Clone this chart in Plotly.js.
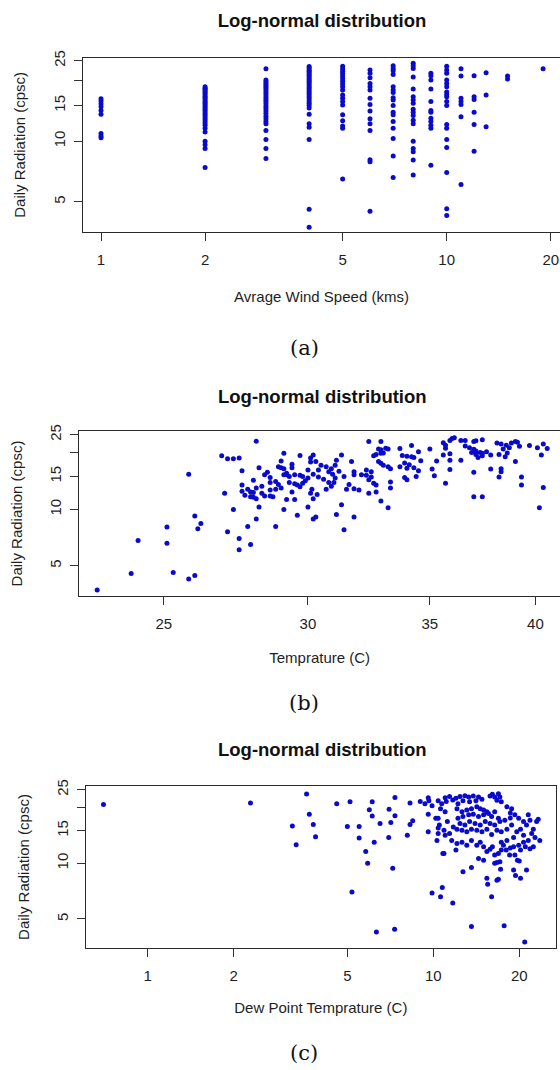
<!DOCTYPE html>
<html>
<head>
<meta charset="utf-8">
<script src="https://cdn.plot.ly/plotly-3.0.1.min.js"></script>
<style>html,body{margin:0;padding:0;background:#fff;}#chart{width:560px;height:1070px;}</style>
</head>
<body>
<div id="chart"></div>
<script>
// ---------- Panel (a): radiation vs average wind speed ----------
const windLevels = [1, 2, 3, 4, 5, 6, 7, 8, 9, 10, 11, 12, 13, 15, 19];
const radiationByWind = [
  [16.2, 15.8, 15.3, 14.8, 14.2, 13.6, 10.9, 10.6, 10.4],
  [18.6, 18.3, 18.0, 17.7, 17.4, 17.1, 16.8, 16.5, 16.2, 15.9, 15.6, 15.3, 15.0, 14.7, 14.4, 14.1, 13.8, 13.5, 13.2, 12.9, 12.6, 12.3, 12.0, 11.6, 11.1, 10.0, 9.6, 9.2, 7.4],
  [22.8, 20.1, 19.7, 19.3, 18.9, 18.5, 18.1, 17.7, 17.3, 16.9, 16.5, 16.1, 15.7, 15.3, 14.9, 14.5, 14.1, 13.7, 13.3, 12.9, 12.5, 12.2, 11.3, 10.2, 9.2, 8.2],
  [23.4, 23.0, 22.6, 22.2, 21.8, 21.4, 21.0, 20.6, 20.2, 19.8, 19.4, 19.0, 18.6, 18.2, 17.8, 17.4, 17.0, 16.6, 16.2, 15.8, 15.4, 15.0, 14.6, 13.6, 12.2, 11.7, 10.2, 4.6, 3.75],
  [23.5, 22.8, 22.2, 21.6, 21.0, 20.4, 19.8, 19.2, 18.6, 17.9, 16.9, 16.3, 15.7, 15.1, 13.5, 12.6, 11.9, 11.6, 6.5],
  [22.5, 21.7, 20.6, 19.3, 18.6, 17.9, 16.3, 15.2, 14.1, 12.9, 12.2, 11.3, 8.1, 7.9, 4.5],
  [23.6, 22.9, 22.3, 21.4, 18.6, 17.9, 17.4, 16.4, 16.0, 15.0, 13.9, 13.5, 12.5, 11.6, 10.3, 8.45, 6.6],
  [24.3, 23.6, 22.9, 20.8, 18.1, 16.6, 16.0, 15.4, 14.4, 13.9, 13.4, 12.7, 12.2, 10.0, 9.2, 8.85, 8.07, 6.8],
  [21.7, 21.1, 20.1, 18.1, 15.7, 14.2, 13.9, 13.0, 12.5, 12.0, 11.6, 7.6],
  [23.5, 22.5, 21.7, 20.1, 19.3, 18.6, 17.5, 17.0, 16.6, 15.7, 15.0, 12.1, 11.6, 10.2, 9.3, 7.0, 4.63, 4.28],
  [22.8, 21.0, 16.3, 15.7, 15.2, 13.2, 6.1],
  [21.1, 16.6, 16.1, 13.9, 12.1, 8.9],
  [21.8, 16.9, 11.8],
  [21.0, 20.3],
  [22.8]
];

// ---------- Panel (b): radiation vs temperature ----------
const temperature = [
  22.98, 23.99, 24.2, 25.1, 25.1, 25.3, 25.8, 25.8, 26.0, 26.0, 26.2, 26.1, 26.9, 27.1, 27.3, 27.5, 27.0, 27.3, 27.1, 27.5,
  27.5, 27.9, 27.8, 28.1, 27.6, 27.6, 27.6, 27.7, 27.8, 27.9, 28.0, 27.9, 28.0, 28.1, 28.0, 28.2, 28.1, 28.2, 28.3, 28.3,
  28.4, 28.5, 28.6, 28.6, 28.6, 28.8, 28.8, 28.9, 29.0, 28.8, 28.9, 29.0, 29.1, 29.2, 29.2, 29.3, 29.1, 29.0, 29.1, 29.1,
  29.2, 29.4, 29.4, 29.6, 29.5, 29.4, 29.3, 29.5, 29.6, 29.7, 29.8, 29.9, 30.0, 29.7, 29.7, 29.8, 30.0, 30.1, 30.1, 30.2,
  30.0, 30.1, 30.2, 30.3, 30.2, 29.5, 28.4, 28.1, 28.6, 28.7, 30.3, 30.5, 30.7, 30.9, 31.05, 30.4, 30.2, 30.4, 30.6, 30.8,
  30.9, 31.0, 31.05, 30.95, 30.8, 30.7, 30.15, 30.35, 31.1, 31.3, 31.4, 31.8, 31.7, 31.3, 31.1, 31.5, 31.8, 32.0, 31.8, 31.8,
  32.1, 31.2, 31.4, 31.6, 32.4, 32.9, 32.8, 32.9, 33.1, 33.2, 32.6, 32.7, 32.9, 33.0, 32.8, 32.9, 33.0, 33.2, 33.3, 32.3,
  32.5, 32.3, 32.5, 32.4, 32.6, 32.7, 32.4, 32.7, 32.9, 33.2, 33.3, 33.3, 33.7, 34.2, 35.0, 33.8, 34.0, 34.2, 34.3, 33.9,
  34.1, 34.0, 34.3, 33.9, 34.0, 33.7, 34.4, 34.5, 34.6, 34.5, 35.1, 35.2, 35.3, 35.6, 35.7, 35.9, 36.0, 36.1, 35.7, 35.9,
  35.6, 35.9, 35.9, 35.7, 36.4, 36.4, 36.6, 37.0, 37.1, 37.4, 36.6, 36.8, 37.0, 37.1, 37.3, 37.4, 37.1, 37.2, 37.4, 36.9,
  37.6, 37.0, 37.0, 37.4, 37.8, 37.8, 38.1, 38.3, 38.55, 38.7, 38.4, 38.6, 38.2, 38.5, 38.8, 39.0, 39.1, 39.2, 39.0, 38.3,
  38.3, 38.2, 39.3, 39.3, 39.7, 40.1, 40.4, 40.6, 40.3, 40.4, 40.2
];
const radiationTemp = [
  3.72, 4.55, 6.83, 8.07, 6.61, 4.61, 15.4, 4.26, 4.44, 9.24, 8.42, 7.88, 19.3, 18.6, 18.6, 18.8, 12.2, 10.0, 7.6, 7.0,
  6.1, 6.5, 8.1, 23.1, 16.1, 13.5, 12.5, 11.9, 12.8, 12.4, 12.3, 11.7, 11.6, 11.4, 14.3, 10.3, 8.9, 16.7, 13.3, 12.2,
  11.8, 15.8, 14.8, 13.9, 11.8, 8.1, 14.1, 13.6, 13.0, 12.8, 16.9, 16.7, 16.5, 15.6, 15.3, 15.0, 15.3, 18.1, 19.9, 10.0,
  11.3, 17.4, 16.7, 9.3, 11.3, 12.4, 13.9, 13.7, 13.5, 13.2, 13.8, 14.2, 14.7, 19.4, 15.2, 15.0, 16.2, 17.9, 18.8, 19.5,
  10.3, 12.2, 11.4, 9.1, 8.9, 15.3, 15.3, 13.0, 12.7, 11.7, 18.0, 17.2, 16.9, 16.5, 17.2, 16.2, 15.4, 14.9, 14.5, 13.9,
  13.3, 13.9, 14.7, 15.4, 15.9, 12.8, 12.8, 12.0, 9.4, 10.6, 7.8, 9.1, 18.0, 19.5, 18.3, 12.8, 12.9, 12.7, 15.9, 15.3,
  15.3, 16.0, 15.0, 13.6, 23.0, 23.0, 21.0, 20.8, 21.2, 21.0, 19.3, 19.6, 19.9, 20.0, 18.0, 17.6, 17.2, 16.9, 16.5, 16.2,
  15.9, 15.2, 14.9, 14.4, 13.8, 13.5, 12.2, 12.4, 11.1, 10.2, 14.0, 13.0, 21.1, 21.9, 21.0, 19.4, 19.2, 19.1, 18.9, 17.7,
  17.3, 16.6, 16.7, 14.8, 14.4, 16.9, 15.0, 20.3, 18.2, 16.1, 16.4, 15.1, 18.1, 22.7, 22.0, 23.3, 23.9, 24.1, 21.2, 19.8,
  19.5, 18.3, 16.3, 13.8, 18.3, 23.3, 23.3, 23.0, 23.2, 23.5, 21.8, 21.3, 20.9, 20.5, 20.1, 19.9, 19.6, 18.9, 19.3, 20.1,
  20.3, 15.8, 11.7, 11.7, 19.5, 16.4, 22.6, 22.3, 22.0, 21.3, 21.0, 20.0, 19.6, 19.1, 22.6, 23.0, 22.8, 21.7, 18.0, 16.5,
  15.9, 14.9, 14.9, 13.5, 21.9, 21.3, 22.3, 21.1, 19.5, 13.1, 10.2
];

// ---------- Panel (c): radiation vs dew point temperature ----------
const dewPoint = [
  0.7, 2.29, 3.6, 3.68, 3.8, 3.21, 3.31, 3.87, 4.59, 5.11, 5.0, 5.5, 5.5, 5.19, 5.97, 6.11, 6.11, 6.51, 6.21, 5.8,
  5.89, 6.32, 7.0, 7.1, 7.34, 7.34, 6.98, 7.21, 7.32, 8.11, 8.29, 8.47, 8.29, 9.6, 9.6, 10.3, 9.9, 10.6, 10.75, 11.7,
  9.0, 9.35, 9.6, 9.65, 9.9, 10.4, 10.7, 11.0, 11.1, 11.4, 11.7, 12.0, 12.2, 12.4, 12.7, 12.9, 13.3, 13.4, 13.8, 14.1,
  14.4, 14.8, 15.8, 16.1, 16.4, 16.9, 17.1, 16.7, 17.3, 18.1, 18.8, 18.6,
  12.1, 12.6, 13.1, 13.6, 14.2, 14.6, 15.0, 15.4, 12.2, 12.7, 13.3, 13.8, 14.4, 15.0, 15.6, 16.0, 16.4, 16.9, 12.4, 12.9,
  13.4, 14.0, 14.6, 15.2, 15.8, 16.4, 17.1, 17.8, 18.6, 12.1, 12.6, 13.1, 13.6, 14.2, 14.8, 15.4, 16.0, 16.7, 17.3, 18.1,
  18.8, 10.4, 10.5, 10.4, 10.4, 10.9, 11.0, 11.4, 11.6, 11.75, 11.2, 11.0, 10.6, 10.2,
  12.1, 12.6, 13.1, 13.6, 14.2, 14.6, 15.0, 15.4, 15.8, 16.1, 16.4, 16.9, 17.3, 17.6, 18.1, 18.6, 19.1, 12.0, 10.8, 10.9,
  15.0, 14.4, 13.6, 12.7, 15.4, 15.5, 16.0, 16.7, 16.9, 16.4, 16.7, 17.1, 17.2, 17.3, 13.6, 17.7, 20.9,
  19.3, 19.9, 20.7, 21.5, 21.2, 21.8, 22.4, 23.0, 23.3, 22.1, 22.7, 23.6, 21.5, 20.7, 19.9, 20.2, 21.0, 21.8, 22.4, 20.7,
  19.6, 20.2, 19.1, 19.3, 19.7, 20.0, 19.1, 19.4, 20.2, 21.2, 18.0, 18.5
];
const radiationDew = [
  20.8, 21.2, 23.7, 18.4, 16.2, 15.9, 12.6, 13.9, 21.0, 21.5, 15.8, 15.8, 13.7, 7.0, 19.5, 21.5, 18.0, 16.4, 13.0, 11.6,
  10.0, 4.25, 19.6, 16.6, 22.7, 18.1, 13.8, 9.4, 4.4, 14.2, 16.2, 17.0, 21.2, 18.4, 14.8, 13.3, 6.9, 6.6, 7.4, 6.1,
  21.6, 21.0, 22.6, 21.8, 20.5, 21.8, 21.0, 22.6, 21.6, 23.0, 22.0, 22.5, 21.0, 23.0, 21.8, 23.2, 22.8, 21.5, 23.1, 21.8,
  22.8, 22.2, 23.1, 23.6, 22.8, 23.8, 22.8, 21.9, 21.5, 20.2, 19.7, 18.7,
  19.7, 19.0, 19.4, 19.7, 20.2, 19.7, 19.4, 19.0, 17.5, 17.9, 18.3, 18.4, 17.9, 18.3, 18.6, 17.9, 19.0, 17.5, 16.4, 16.1,
  16.8, 16.4, 16.1, 16.8, 16.4, 16.1, 16.8, 17.1, 17.6, 15.3, 15.1, 14.8, 15.3, 15.1, 14.8, 15.3, 14.3, 15.1, 14.8, 15.3,
  16.1, 17.5, 16.1, 15.5, 14.5, 15.1, 14.2, 14.5, 13.3, 15.7, 16.8, 19.0, 19.7, 17.5,
  12.8, 13.0, 12.5, 13.3, 12.5, 13.0, 12.3, 11.6, 11.9, 12.3, 11.1, 11.3, 13.0, 12.5, 13.3, 12.1, 12.3, 11.8, 11.3, 11.3,
  10.4, 10.6, 9.5, 9.0, 8.3, 7.7, 6.6, 8.1, 8.2, 10.0, 10.1, 10.2, 9.3, 11.8, 4.55, 4.6, 3.75,
  18.3, 17.5, 16.8, 18.3, 16.1, 17.1, 15.3, 16.8, 17.3, 14.5, 13.8, 13.3, 13.3, 13.0, 12.5, 11.8, 12.3, 12.0, 12.3, 14.2,
  14.8, 15.3, 13.8, 11.1, 10.4, 10.3, 9.2, 8.6, 8.3, 9.2, 11.8, 11.1
];

// ---------- tick labels / titles ----------
const mainTitle = 'Log-normal distribution';
const yTitle = 'Daily Radiation (cpsc)';
const xTitles = ['Avrage Wind Speed (kms)', 'Temprature (C)', 'Dew Point Temprature (C)'];
const panelLabels = ['(a)', '(b)', '(c)'];
const radTickVals = [5, 10, 15, 20, 25];
const radTickText = ['5', '10', '15', '', '25'];
const logTickVals = [1, 2, 5, 10, 20];
const logTickText = ['1', '2', '5', '10', '20'];
const tempTickVals = [25, 30, 35, 40];
const tempTickText = ['25', '30', '35', '40'];

// ---------- build ----------
const W = 560, H = 1070;
const windX = [], windY = [];
windLevels.forEach((w, i) => radiationByWind[i].forEach(r => { windX.push(w); windY.push(r); }));

const FONT = 'Liberation Sans, Arial, Helvetica, sans-serif';
const TXT = '#1e1e1e';
const marker = {size: 5, color: '#0a0acc', line: {width: 0}};

const traces = [
  {type: 'scatter', mode: 'markers', x: windX, y: windY, xaxis: 'x', yaxis: 'y', marker: marker, hoverinfo: 'x+y'},
  {type: 'scatter', mode: 'markers', x: temperature, y: radiationTemp, xaxis: 'x2', yaxis: 'y2', marker: marker, hoverinfo: 'x+y'},
  {type: 'scatter', mode: 'markers', x: dewPoint, y: radiationDew, xaxis: 'x3', yaxis: 'y3', marker: marker, hoverinfo: 'x+y'}
];

function px2x(px) { return px / W; }
function py2y(py) { return (H - py) / H; }

function xAxis(domain, range, vals, text, title, anchor, standoff) {
  return {
    type: 'log', domain: domain, range: range, anchor: anchor,
    tickmode: 'array', tickvals: vals, ticktext: text,
    ticks: 'outside', ticklen: 8, tickwidth: 1, tickcolor: '#333',
    showline: true, linecolor: '#2a2a2a', linewidth: 1, mirror: true,
    showgrid: false, zeroline: false,
    tickfont: {family: FONT, size: 15, color: TXT},
    ticklabelstandoff: 6,
    title: {text: title, font: {family: FONT, size: 15, color: TXT}, standoff: standoff},
    automargin: false
  };
}
function yAxis(domain, range, anchor, mirror, standoff) {
  return {
    type: 'log', domain: domain, range: range, anchor: anchor,
    tickmode: 'array', tickvals: radTickVals, ticktext: radTickText,
    tickangle: -90,
    ticks: 'outside', ticklen: 8, tickwidth: 1, tickcolor: '#333',
    showline: true, linecolor: '#2a2a2a', linewidth: 1, mirror: mirror,
    showgrid: false, zeroline: false,
    tickfont: {family: FONT, size: 15, color: TXT},
    ticklabelstandoff: 3,
    title: {text: yTitle, font: {family: FONT, size: 15, color: TXT}, standoff: standoff},
    automargin: false
  };
}

const layout = {
  width: W, height: H,
  margin: {l: 0, r: 0, t: 0, b: 0},
  paper_bgcolor: '#ffffff', plot_bgcolor: '#ffffff',
  showlegend: false,
  title: {text: mainTitle, x: 322 / W, xanchor: 'center', xref: 'paper', y: py2y(21), yanchor: 'middle', yref: 'paper',
          font: {family: FONT, size: 18.5, color: '#111', weight: 700}},
  xaxis: xAxis([px2x(83), 1], [-0.0521, 1.3277], logTickVals, logTickText, xTitles[0], 'y', 24),
  yaxis: yAxis([py2y(232), py2y(57.7)], [0.5501, 1.4132], 'x', false, 21),
  xaxis2: xAxis([px2x(79.3), 1], [1.35154, 1.61555], tempTickVals, tempTickText, xTitles[1], 'y2', 21),
  yaxis2: yAxis([py2y(596), py2y(431)], [0.5387, 1.418], 'x2', false, 21),
  xaxis3: xAxis([px2x(85.7), px2x(556)], [-0.2171, 1.4296], logTickVals, logTickText, xTitles[2], 'y3', 19),
  yaxis3: yAxis([py2y(948.3), py2y(785.7)], [0.5405, 1.4195], 'x3', true, 20),
  annotations: [
    {text: mainTitle, xref: 'paper', yref: 'paper', x: 322 / W, y: py2y(396), xanchor: 'center', yanchor: 'middle', showarrow: false,
     font: {family: FONT, size: 18.5, color: '#111', weight: 700}},
    {text: mainTitle, xref: 'paper', yref: 'paper', x: 322 / W, y: py2y(749), xanchor: 'center', yanchor: 'middle', showarrow: false,
     font: {family: FONT, size: 18.5, color: '#111', weight: 700}},
    {text: panelLabels[0], xref: 'paper', yref: 'paper', x: 304 / W, y: py2y(348), xanchor: 'center', yanchor: 'middle', showarrow: false,
     font: {family: 'DejaVu Serif, serif', size: 21, color: '#111'}},
    {text: panelLabels[1], xref: 'paper', yref: 'paper', x: 304 / W, y: py2y(703), xanchor: 'center', yanchor: 'middle', showarrow: false,
     font: {family: 'DejaVu Serif, serif', size: 21, color: '#111'}},
    {text: panelLabels[2], xref: 'paper', yref: 'paper', x: 304 / W, y: py2y(1053), xanchor: 'center', yanchor: 'middle', showarrow: false,
     font: {family: 'DejaVu Serif, serif', size: 21, color: '#111'}}
  ]
};

Plotly.newPlot('chart', traces, layout, {staticPlot: true, displayModeBar: false});
</script>
</body>
</html>
